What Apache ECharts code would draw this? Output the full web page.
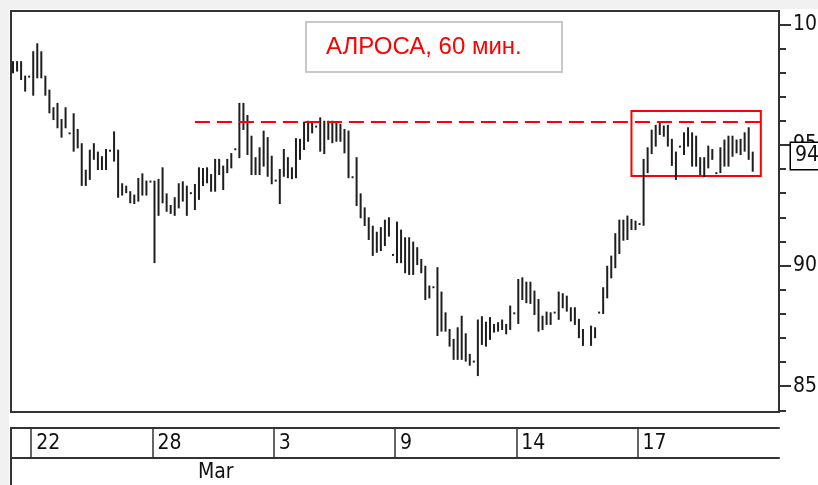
<!DOCTYPE html>
<html>
<head>
<meta charset="utf-8">
<script src="https://cdn.jsdelivr.net/npm/echarts@6/dist/echarts.min.js"></script>
<style>
  html, body { margin: 0; padding: 0; background: #fff; }
  #main { width: 818px; height: 485px; }
</style>
</head>
<body>
<div id="main"></div>
<script>
// hourly bars, high / low of each bar
const barHigh = [
  98.43, 98.43, 98.43, 97.83, 97.83, 98.84, 99.17, 98.84, 97.83, 97.25,
  96.52, 96.70, 96.03, 96.52, 95.48, 96.27, 95.62, 95.03, 93.93, 94.76,
  95.03, 94.68, 94.49, 94.79, 94.76, 95.52, 94.76, 93.37, 93.27, 93.04,
  92.90, 93.59, 93.78, 93.48, 93.48, 93.48, 93.55, 94.03, 92.95, 92.47,
  92.79, 93.37, 93.45, 93.27, 93.00, 93.34, 94.03, 94.00, 94.03, 93.75,
  94.38, 94.38, 94.10, 94.38, 94.62, 94.82, 96.70, 96.70, 96.20, 95.34,
  94.45, 94.86, 95.55, 95.28, 94.51, 93.52, 93.96, 94.79, 94.45, 94.03,
  95.24, 95.21, 95.92, 95.96, 95.90, 95.76, 96.10, 95.96, 95.96, 95.96,
  95.90, 95.83, 95.62, 95.55, 93.66, 94.45, 92.95, 92.37, 91.96, 91.61,
  91.36, 91.55, 91.86, 91.96, 90.44, 91.78, 91.45, 91.13, 91.13, 90.95,
  90.72, 90.23, 89.95, 89.13, 89.10, 89.89, 88.88, 88.02, 87.33, 86.92,
  87.40, 87.88, 87.15, 86.30, 86.02, 87.72, 87.86, 87.63, 87.82, 87.54,
  87.61, 87.72, 87.54, 88.30, 88.02, 89.40, 89.47, 89.29, 89.29, 88.92,
  88.57, 87.88, 88.05, 88.02, 88.05, 88.88, 88.81, 88.71, 88.23, 88.23,
  87.75, 87.33, null, 87.47, 87.40, 88.05, 89.06, 89.95, 90.37, 91.30,
  91.86, 91.86, 92.03, 91.89, 91.82, 91.72, 94.38, 94.86, 95.59, 95.79,
  95.87, 95.76, 95.79, 95.21, 94.68, 94.93, 95.48, 95.69, 95.48, 95.34,
  94.45, 94.45, 94.93, 94.79, 93.83, 94.86, 95.18, 95.34, 95.34, 95.18,
  95.21, 95.48, 95.69, 94.68
];
const barLow = [
  97.97, 98.04, 97.69, 97.21, 97.83, 97.04, 97.76, 97.76, 97.04, 96.31,
  96.03, 95.69, 95.30, 95.69, 95.48, 94.72, 94.86, 93.30, 93.30, 93.55,
  94.38, 93.96, 93.96, 93.96, 94.76, 94.31, 92.81, 92.90, 93.00, 92.58,
  92.55, 92.65, 92.90, 92.90, 93.48, 90.10, 92.06, 92.58, 92.23, 92.14,
  92.06, 92.37, 92.65, 92.06, 93.00, 92.30, 92.72, 93.30, 93.41, 93.06,
  93.06, 93.75, 93.13, 93.83, 94.03, 94.82, 94.45, 95.62, 94.58, 93.75,
  93.75, 93.75, 94.10, 93.68, 93.37, 93.52, 92.55, 93.68, 93.62, 93.58,
  93.62, 94.38, 94.79, 95.13, 95.48, 95.76, 94.72, 94.62, 95.21, 95.07,
  95.13, 95.13, 94.65, 93.62, 93.66, 92.47, 91.96, 91.64, 91.06, 90.40,
  90.53, 90.60, 90.81, 91.20, 90.44, 90.10, 90.10, 89.68, 89.61, 89.61,
  90.02, 89.68, 88.57, 88.64, 89.10, 87.08, 87.26, 87.26, 86.64, 86.09,
  86.09, 86.09, 86.02, 85.85, 86.02, 85.42, 86.71, 86.64, 86.92, 87.22,
  87.26, 87.33, 87.15, 87.33, 88.02, 87.58, 88.57, 88.44, 88.41, 87.95,
  87.26, 87.33, 87.54, 87.54, 88.05, 87.75, 88.23, 88.09, 87.68, 87.54,
  86.99, 86.67, null, 86.67, 86.99, 88.05, 87.99, 88.64, 89.47, 89.89,
  90.48, 91.03, 91.06, 91.47, 91.47, 91.72, 91.65, 93.83, 94.62, 94.93,
  95.41, 95.34, 94.93, 94.13, 93.55, 94.93, 94.58, 94.93, 94.10, 94.10,
  93.75, 93.66, 94.03, 94.38, 93.83, 93.83, 94.10, 94.10, 94.51, 94.65,
  94.58, 94.72, 94.38, 93.89
];
const emptySlots = 6;               // free space right of the last bar
const priceTicks = [85, 90, 95, 100];
const lastPrice = 94.54;
const resistance = 95.95;
const resistanceFrom = 45, resistanceTo = 186;
const boxFrom = 153, boxTo = 185, boxTop = 96.41, boxBottom = 93.71;
// day / month separators, counted in bar boundaries
const dayTickIdx = [5, 35, 65, 95, 125, 155];
const dayTickText = ['22', '28', '3', '9', '14', '17'];
const monthTickIdx = [45];
const monthTickText = ['Mar'];

const yMin = 83.93, yMax = 100.55;
const font = "'Liberation Sans Narrow', 'DejaVu Sans Condensed', 'Liberation Sans', sans-serif";

let categories = [];
for (let i = 0; i < barHigh.length + emptySlots; i++) categories.push(String(i));
// boundaries between bars, used by the date strip
let boundaries = [];
for (let i = 0; i <= categories.length; i++) boundaries.push(String(i));

let barData = barHigh.map((h, i) => h == null ? [i, '-', '-'] : [i, h, barLow[i]]);

let minorTicks = [];
for (let v = Math.ceil(yMin); v <= yMax; v++) minorTicks.push(v);

const chart = echarts.init(document.getElementById('main'), null, { renderer: 'canvas' });

function renderBar(params, api) {
  const hi = api.value(1), lo = api.value(2);
  if (isNaN(hi) || isNaN(lo)) return;
  const top = api.coord([api.value(0), hi]);
  const bot = api.coord([api.value(0), lo]);
  return {
    type: 'rect',
    shape: { x: top[0] - 1, y: top[1] - 1, width: 2, height: Math.max(bot[1] - top[1] + 1, 2) },
    style: { fill: '#1e1e1e' }
  };
}

const option = {
  backgroundColor: '#ffffff',
  animation: false,
  graphic: [
    { type: 'rect', z: -10, shape: { x: 0, y: 0, width: 818, height: 9 }, style: { fill: '#f1f1f1' } },
    { type: 'rect', z: -10, shape: { x: 0, y: 0, width: 9, height: 485 }, style: { fill: '#f1f1f1' } }
  ],
  title: {
    text: 'АЛРОСА, 60 мин.',
    left: 306,
    top: 22,
    padding: [13, 40, 13, 20],
    borderColor: '#c8c8c8',
    borderWidth: 2,
    textStyle: { color: '#ff0000', fontSize: 24, fontWeight: 'normal', fontFamily: "'Liberation Sans', Arial, sans-serif" }
  },
  grid: [
    { left: 11, top: 11, width: 768, height: 401, show: true, borderColor: '#333', borderWidth: 2, backgroundColor: '#fff', outerBoundsMode: 'none' },
    { left: 11, top: 428, width: 768, height: 30, outerBoundsMode: 'none' },
    { left: 11, top: 458, width: 768, height: 40, outerBoundsMode: 'none' }
  ],
  xAxis: [
    {
      gridIndex: 0, type: 'category', data: categories,
      axisLine: { show: false }, axisTick: { show: false }, axisLabel: { show: false }, splitLine: { show: false }
    },
    {
      gridIndex: 1, type: 'category', data: boundaries, boundaryGap: false, position: 'bottom',
      axisLine: { show: true, lineStyle: { color: '#333', width: 2 } },
      axisTick: {
        show: true, inside: true, length: 30,
        interval: (idx) => dayTickIdx.includes(idx),
        lineStyle: { color: '#333', width: 1.5 }
      },
      axisLabel: {
        show: true, inside: true, margin: 4,
        interval: (idx) => dayTickIdx.includes(idx),
        formatter: (v, idx) => dayTickText[dayTickIdx.indexOf(idx)] || '',
        align: 'left', verticalAlign: 'bottom', padding: [0, 0, 0, 5],
        color: '#111', fontSize: 21, fontFamily: font
      },
      splitLine: { show: false }
    },
    {
      gridIndex: 1, type: 'category', data: boundaries, boundaryGap: false, position: 'top',
      axisLine: { show: true, lineStyle: { color: '#333', width: 2 } },
      axisTick: { show: false }, axisLabel: { show: false }
    },
    {
      gridIndex: 2, type: 'category', data: boundaries, boundaryGap: false, position: 'top',
      axisLine: { show: false },
      axisTick: {
        show: true, inside: true, length: 30,
        interval: (idx) => monthTickIdx.includes(idx),
        lineStyle: { color: '#333', width: 1.5 }
      },
      axisLabel: {
        show: true, inside: true, margin: 4,
        interval: (idx) => monthTickIdx.includes(idx),
        formatter: (v, idx) => monthTickText[monthTickIdx.indexOf(idx)] || '',
        align: 'left', verticalAlign: 'top', padding: [0, 0, 0, 5],
        color: '#111', fontSize: 21, fontFamily: font
      }
    }
  ],
  yAxis: [
    {
      gridIndex: 0, type: 'value', position: 'right', min: yMin, max: yMax,
      axisLine: { show: true, lineStyle: { color: '#333', width: 2 } },
      axisTick: { show: true, customValues: minorTicks, length: 7, lineStyle: { color: '#333', width: 2 } },
      axisLabel: { show: false },
      splitLine: { show: false }
    },
    {
      gridIndex: 0, type: 'value', position: 'right', min: yMin, max: yMax,
      axisLine: { show: false },
      axisTick: { show: true, customValues: priceTicks, length: 12, lineStyle: { color: '#333', width: 2 } },
      axisLabel: {
        show: true, customValues: priceTicks, margin: 14,
        color: '#111', fontSize: 21, fontFamily: font
      },
      splitLine: { show: false }
    },
    {
      gridIndex: 1, type: 'value', position: 'left',
      axisLine: { show: true, lineStyle: { color: '#333', width: 2 } },
      axisTick: { show: false }, axisLabel: { show: false }, splitLine: { show: false }
    },
    {
      gridIndex: 2, type: 'value', position: 'left',
      axisLine: { show: true, lineStyle: { color: '#333', width: 2 } },
      axisTick: { show: false }, axisLabel: { show: false }, splitLine: { show: false }
    }
  ],
  series: [
    {
      name: 'АЛРОСА',
      type: 'custom',
      xAxisIndex: 0,
      yAxisIndex: 0,
      renderItem: renderBar,
      encode: { x: 0, y: [1, 2] },
      data: barData,
      clip: false,
      markLine: {
        silent: true,
        symbol: 'none',
        animation: false,
        data: [
          [
            { coord: [resistanceFrom, resistance], lineStyle: { color: '#ff0000', width: 2, type: [15, 7] }, label: { show: false } },
            { coord: [resistanceTo, resistance] }
          ],
          {
            yAxis: lastPrice,
            lineStyle: { color: 'rgba(255,255,255,0)', opacity: 1, width: 1, type: 'solid' },
            label: {
              show: true, position: 'end', distance: 12,
              formatter: String(lastPrice),
              backgroundColor: '#fff', borderColor: '#000', borderWidth: 1.5,
              padding: [3, 4, 2, 4],
              color: '#111', fontSize: 21, fontFamily: font
            }
          }
        ]
      },
      markArea: {
        silent: true,
        data: [[
          { coord: [boxFrom, boxTop], itemStyle: { color: 'rgba(0,0,0,0)', borderColor: '#ff0000', borderWidth: 2 } },
          { coord: [boxTo, boxBottom] }
        ]]
      }
    }
  ]
};

chart.setOption(option);
</script>
</body>
</html>
